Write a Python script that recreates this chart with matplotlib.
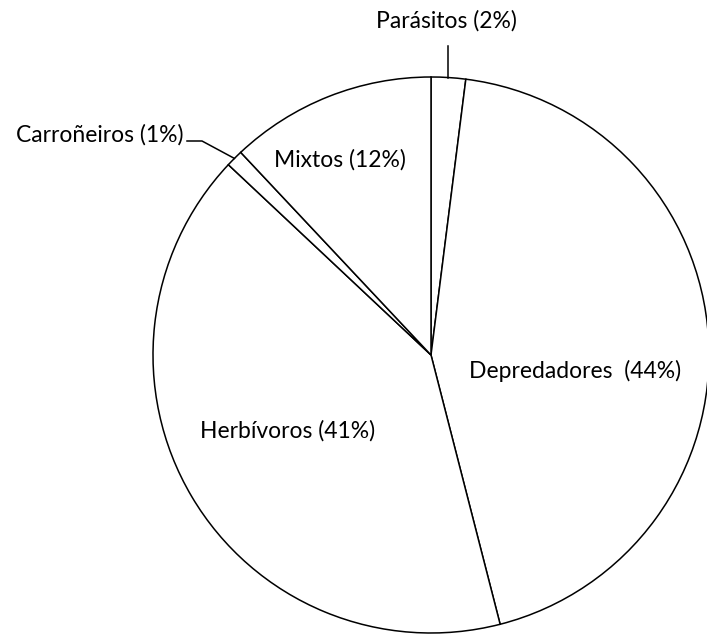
import matplotlib
matplotlib.use("Agg")
import matplotlib.pyplot as plt
import numpy as np

categories = ["Parásitos", "Depredadores", "Herbívoros", "Carroñeiros", "Mixtos"]
values = [2, 44, 41, 1, 12]
labels = ["Parásitos (2%)", "Depredadores  (44%)", "Herbívoros (41%)", "Carroñeiros (1%)", "Mixtos (12%)"]

plt.rcParams['font.family'] = ['Lato', 'DejaVu Sans']

W, H = 707, 634
fig = plt.figure(figsize=(W/100, H/100), dpi=100)
ax = fig.add_axes([0, 0, 1, 1])
ax.set_xlim(0, W)
ax.set_ylim(0, H)
ax.set_aspect('equal')
ax.axis('off')

cx, cy, R = 431, H - 355, 278
wedges, _ = ax.pie(values, startangle=90, counterclock=False, center=(cx, cy), radius=R,
                   colors=['white'] * len(values),
                   wedgeprops=dict(edgecolor='black', linewidth=1.1))
ax.set_xlim(0, W)
ax.set_ylim(0, H)

fs = 16.5
# inside labels
ax.text(575, H - 371, labels[1], ha='center', va='center', fontsize=fs)
ax.text(288, H - 431, labels[2], ha='center', va='center', fontsize=fs)
ax.text(340, H - 160, labels[4], ha='center', va='center', fontsize=fs)

# Parásitos outside with leader
w = wedges[0]
ang = np.deg2rad((w.theta1 + w.theta2) / 2)
px, py = cx + R * np.cos(ang), cy + R * np.sin(ang)
ax.plot([px, px], [py, H - 46], color='black', lw=1.1)
ax.text(446, H - 21, labels[0], ha='center', va='center', fontsize=fs)

# Carroñeiros outside with leader
w = wedges[3]
ang = np.deg2rad((w.theta1 + w.theta2) / 2)
px, py = cx + R * np.cos(ang), cy + R * np.sin(ang)
ax.plot([187, 202, px], [H - 141, H - 141, py], color='black', lw=1.1)
ax.text(183, H - 135, labels[3], ha='right', va='center', fontsize=fs)

fig.savefig("out.png", dpi=100)
